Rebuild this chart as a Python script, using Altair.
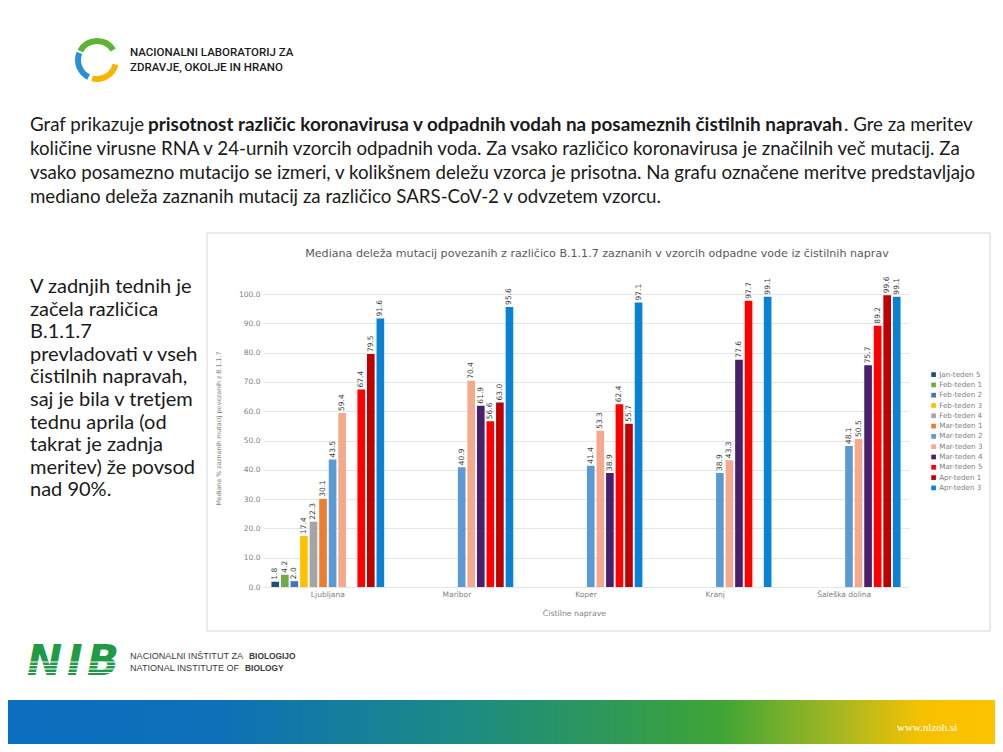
import altair as alt
import pandas as pd

# ---------------- data ----------------
plants = ["Ljubljana", "Maribor", "Koper", "Kranj", "Šaleška dolina"]
weeks = ["Jan-teden 5", "Feb-teden 1", "Feb-teden 2", "Feb-teden 3", "Feb-teden 4",
         "Mar-teden 1", "Mar-teden 2", "Mar-teden 3", "Mar-teden 4", "Mar-teden 5",
         "Apr-teden 1", "Apr-teden 3"]
week_colors = ["#1f4e79", "#70ad47", "#4472c4", "#ffc000", "#a5a5a5", "#ed7d31",
               "#5b9bd5", "#f4a98c", "#4b1f6b", "#ff0000", "#c00000", "#0a82d4"]

jan_t5 = [1.8, None, None, None, None]
feb_t1 = [4.2, None, None, None, None]
feb_t2 = [2.0, None, None, None, None]
feb_t3 = [17.4, None, None, None, None]
feb_t4 = [22.3, None, None, None, None]
mar_t1 = [30.1, None, None, None, None]
mar_t2 = [43.5, 40.9, 41.4, 38.9, 48.1]
mar_t3 = [59.4, 70.4, 53.3, 43.3, 50.5]
mar_t4 = [None, 61.9, 38.9, 77.6, 75.7]
mar_t5 = [67.4, 56.6, 62.4, 97.7, 89.2]
apr_t1 = [79.5, 63.0, 55.7, None, 99.6]
apr_t3 = [91.6, 95.6, 97.1, 99.1, 99.1]
series_values = [jan_t5, feb_t1, feb_t2, feb_t3, feb_t4, mar_t1,
                 mar_t2, mar_t3, mar_t4, mar_t5, apr_t1, apr_t3]
y_ticks = [0, 10, 20, 30, 40, 50, 60, 70, 80, 90, 100]

chart_title = ("Mediana deleža mutacij povezanih z različico B.1.1.7 zaznanih v vzorcih "
               "odpadne vode iz čistilnih naprav")
y_title = "Mediana % zaznanih mutacij povezanih z B.1.1.7"
x_title = "Čistilne naprave"

intro_start = "Graf prikazuje"
intro_bold = ("prisotnost različic koronavirusa v odpadnih vodah na posameznih "
              "čistilnih napravah")
intro_end = ". Gre za meritev"
intro_rest = [
    "količine virusne RNA v 24-urnih vzorcih odpadnih voda. Za vsako različico koronavirusa je značilnih več mutacij. Za",
    "vsako posamezno mutacijo se izmeri, v kolikšnem deležu vzorca je prisotna. Na grafu označene meritve predstavljajo",
    "mediano deleža zaznanih mutacij za različico SARS-CoV-2 v odvzetem vzorcu.",
]
side_lines = ["V zadnjih tednih je", "začela različica", "B.1.1.7",
              "prevladovati v vseh", "čistilnih napravah,", "saj je bila v tretjem",
              "tednu aprila (od", "takrat je zadnja", "meritev) že povsod", "nad 90%."]
nlzoh_lines = ["NACIONALNI LABORATORIJ ZA", "ZDRAVJE, OKOLJE IN HRANO"]
nib_letters = ["N", "I", "B"]
nib_plain = ["NACIONALNI INŠTITUT ZA", "NATIONAL INSTITUTE OF"]
nib_bold = ["BIOLOGIJO", "BIOLOGY"]
url_text = "www.nlzoh.si"

rows = []
for w, vals in zip(weeks, series_values):
    for p, v in zip(plants, vals):
        if v is not None:
            rows.append({"plant": p, "week": w, "value": v})
df = pd.DataFrame(rows)

# ---------------- layout (page pixels) ----------------
PX0, PY0 = 263, 294          # plot origin on the page
W, H = 646, 293              # plot area
CW, CH = 987, 736            # whole canvas


def sx(px):
    return px - PX0


def sy(py):
    return py - PY0


def text_layer(txt, px, py, size, font="Lato", weight="normal", color="#1a1a1a",
               align="left", baseline="alphabetic", line_height=None, style="normal"):
    kw = dict(align=align, baseline=baseline, font=font, fontSize=size,
              fontWeight=weight, color=color, fontStyle=style)
    if line_height:
        kw["lineHeight"] = line_height
        kw["lineBreak"] = "\n"
    return alt.Chart(alt.Data(values=[{"t": txt}])).mark_text(**kw).encode(
        x=alt.value(sx(px)), y=alt.value(sy(py)), text="t:N")


CHART_FONT = "DejaVu Sans"
GRAY = "#7f7f7f"

x_enc = alt.X("plant:N", sort=plants,
              scale=alt.Scale(domain=plants, paddingInner=0.112, paddingOuter=0.058),
              axis=alt.Axis(title=x_title, labelAngle=0, ticks=False, domain=False,
                            labelFont=CHART_FONT, labelFontSize=7.5, labelColor=GRAY,
                            labelPadding=3, titleFont=CHART_FONT, titleFontSize=7.8,
                            titleFontWeight="normal", titleColor=GRAY,
                            titleX=574 - PX0, titleY=613 - (PY0 + H),
                            titleBaseline="middle", titleAlign="center"))
xo_enc = alt.XOffset("week:N", sort=weeks,
                     scale=alt.Scale(domain=weeks, paddingInner=0.2, paddingOuter=0.1))
y_enc = alt.Y("value:Q", scale=alt.Scale(domain=[0, 100]),
              axis=alt.Axis(values=y_ticks, format=".1f", title=y_title,
                            titleFont=CHART_FONT, titleFontSize=6.3,
                            titleFontWeight="normal", titleColor=GRAY,
                            titleX=sx(218), titleY=sy(428), titleAngle=270,
                            titleAlign="center", titleBaseline="middle",
                            labelFont=CHART_FONT, labelFontSize=7.5, labelColor=GRAY,
                            labelPadding=3, ticks=False, domain=False,
                            gridColor="#e6e6e6"))
color_enc = alt.Color("week:N", sort=weeks, title=None,
                      scale=alt.Scale(domain=weeks, range=week_colors),
                      legend=alt.Legend(orient="none", legendX=sx(930), legendY=sy(371),
                                        symbolType="square", symbolSize=22,
                                        symbolStrokeWidth=0, labelFont=CHART_FONT,
                                        labelFontSize=7.2, labelColor=GRAY,
                                        rowPadding=2.3, labelOffset=2))

bars = alt.Chart(df).mark_bar().encode(x=x_enc, xOffset=xo_enc, y=y_enc, color=color_enc)
bar_labels = alt.Chart(df).mark_text(angle=270, align="left", baseline="middle", dx=2,
                                     font=CHART_FONT, fontSize=7.5, color="#404040").encode(
    x=x_enc, xOffset=xo_enc, y=y_enc, text=alt.Text("value:Q", format=".1f"))

frame = alt.Chart(alt.Data(values=[{}])).mark_rect(
    fillOpacity=0, stroke="#d9d9d9", strokeWidth=1).encode(
    x=alt.value(sx(207)), x2=alt.value(sx(990)), y=alt.value(sy(233)), y2=alt.value(sy(631)))

title_layer = text_layer(chart_title, 597, 254, 11.1, font=CHART_FONT, color="#595959",
                         align="center", baseline="middle")

# slide text
layers = []
layers.append(text_layer(intro_start, 30, 131, 18.7))
layers.append(text_layer(intro_bold, 148, 131, 18.9, weight="bold"))
layers.append(text_layer(intro_end, 844, 131, 18.7))
layers.append(text_layer("\n".join(intro_rest), 30, 155, 18.7, line_height=24))
layers.append(text_layer("\n".join(side_lines), 30, 293, 20, line_height=22.6))

# NLZOH logo
logo_arcs = [("#5db333", 5.2, 7.3), ("#2b8fd6", 3.6, 5.1), ("#f8b500", 1.8, 3.4)]
for col, t1, t2 in logo_arcs:
    layers.append(alt.Chart(alt.Data(values=[{}])).mark_arc(
        theta=t1, theta2=t2, radius=22, radius2=16, color=col).encode(
        x=alt.value(sx(97)), y=alt.value(sy(60))))
layers.append(text_layer("\n".join(nlzoh_lines), 130, 56, 11.5, font="Roboto",
                         weight=500, line_height=15))

# NIB logo
for letter, lx in zip(nib_letters, [27, 67, 87]):
    layers.append(text_layer(letter, lx, 675, 42, font="DejaVu Sans", weight="bold",
                             style="italic", color="#1f9b48"))
for yy in [662, 665.5, 669, 672.5]:
    layers.append(alt.Chart(alt.Data(values=[{}])).mark_rule(
        color="white", strokeWidth=1.2).encode(
        x=alt.value(sx(20)), x2=alt.value(sx(128)), y=alt.value(sy(yy))))
NIB_GRAY = "#3a3a3a"
layers.append(text_layer(nib_plain[0], 130, 658.5, 9.1, font="Liberation Sans", color=NIB_GRAY))
layers.append(text_layer(nib_bold[0], 249, 658.5, 8.4, font="Liberation Sans", weight="bold", color=NIB_GRAY))
layers.append(text_layer(nib_plain[1], 130, 670.5, 9.1, font="Liberation Sans", color=NIB_GRAY))
layers.append(text_layer(nib_bold[1], 245, 670.5, 8.4, font="Liberation Sans", weight="bold", color=NIB_GRAY))

# footer gradient
grad = alt.LinearGradient(
    gradient="linear", x1=0, x2=1, y1=0, y2=0,
    stops=[alt.GradientStop(color="#0b6ebf", offset=0),
           alt.GradientStop(color="#0d70b8", offset=0.22),
           alt.GradientStop(color="#1b8a86", offset=0.45),
           alt.GradientStop(color="#2f9a55", offset=0.62),
           alt.GradientStop(color="#3fa535", offset=0.72),
           alt.GradientStop(color="#a9b821", offset=0.84),
           alt.GradientStop(color="#f7c100", offset=0.92),
           alt.GradientStop(color="#fdc300", offset=1)])
footer = alt.Chart(alt.Data(values=[{}])).mark_rect(color=grad).encode(
    x=alt.value(sx(0)), x2=alt.value(sx(1003)), y=alt.value(sy(700)), y2=alt.value(sy(752)))
layers.append(footer)
layers.append(text_layer(url_text, 897, 731, 11, font="Liberation Sans Narrow",
                         color="white"))

chart = alt.layer(frame, bars, bar_labels, title_layer, *layers).properties(
    width=W, height=H,
    autosize=alt.AutoSizeParams(type="none"),
    padding={"left": PX0 - 8, "top": PY0 - 8,
             "right": CW - (PX0 - 8) - W, "bottom": CH - (PY0 - 8) - H},
    background="white",
).configure_view(stroke=None)

chart.save("out.html", embed_options={"renderer": "svg", "actions": False})
